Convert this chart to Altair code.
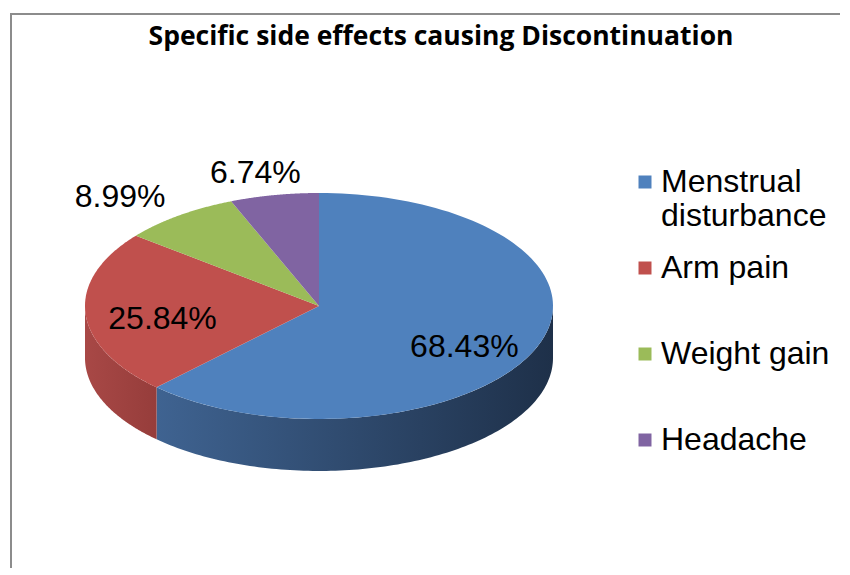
import altair as alt
import pandas as pd

# ---- data ----
categories = ["Menstrual disturbance", "Arm pain", "Weight gain", "Headache"]
values = [68.43, 25.84, 8.99, 6.74]

# ---- styles ----
top_colors = ["#4F81BD", "#C0504D", "#9BBB59", "#8064A2"]
side_left = ["#3F6391", "#A84846", "#7E9A48", "#674F85"]
side_right = ["#1E3049", "#963D3B", "#627838", "#4F3D67"]

N = 120          # points along each arc
DEPTH = 0.46     # thickness of the 3D side (in y-scale units)
W, H = 832, 555
FONT = "Liberation Sans, Arial"

df = pd.DataFrame({"category": categories, "value": values,
                   "idx": list(range(len(categories)))})

xs = alt.Scale(domain=[-1, 1], range=[77, 545], nice=False, zero=False)
ys = alt.Scale(domain=[-1, 1], range=[406, 180], nice=False, zero=False)

base = alt.Chart(df).transform_joinaggregate(
    total="sum(value)"
).transform_window(
    cum="sum(value)", sort=[alt.SortField("idx")], frame=[None, 0]
).transform_calculate(
    a0="2*PI*(datum.cum - datum.value)/datum.total",
    a1="2*PI*datum.cum/datum.total",
)

# 3D side bands (front half of the ellipse)
sides = []
for i, cat in enumerate(categories):
    grad = {"gradient": "linear", "x1": 0, "x2": 1, "y1": 0, "y2": 0,
            "stops": [{"offset": 0, "color": side_left[i]},
                      {"offset": 1, "color": side_right[i]}]}
    s = base.transform_filter(
        alt.datum.category == cat
    ).transform_calculate(
        s0="max(datum.a0, PI/2)", s1="min(datum.a1, 3*PI/2)"
    ).transform_filter(
        "datum.s1 > datum.s0"
    ).transform_calculate(
        pts=f"sequence(0, {2 * N + 2})"
    ).transform_flatten(
        ["pts"]
    ).transform_calculate(
        k=f"datum.pts <= {N} ? datum.pts : {2 * N + 1} - datum.pts",
        t=f"datum.s0 + (datum.s1 - datum.s0) * datum.k / {N}",
        px="sin(datum.t)",
        py=f"cos(datum.t) - (datum.pts <= {N} ? 0 : {DEPTH})",
    ).mark_line(fill=grad, strokeWidth=0, strokeOpacity=0).encode(
        x=alt.X("px:Q", scale=xs, axis=None),
        y=alt.Y("py:Q", scale=ys, axis=None),
        order=alt.Order("pts:Q"),
        detail="category:N",
    )
    sides.append(s)

# top wedges
top = base.transform_calculate(
    pts=f"sequence(-1, {N + 1})"
).transform_flatten(
    ["pts"]
).transform_calculate(
    t=f"datum.a0 + (datum.a1 - datum.a0) * max(datum.pts, 0) / {N}",
    px="datum.pts < 0 ? 0 : sin(datum.t)",
    py="datum.pts < 0 ? 0 : cos(datum.t)",
).mark_line(filled=True, strokeWidth=0).encode(
    x=alt.X("px:Q", scale=xs, axis=None),
    y=alt.Y("py:Q", scale=ys, axis=None),
    color=alt.Color(
        "category:N",
        scale=alt.Scale(domain=categories, range=top_colors),
        sort=categories,
        legend=alt.Legend(
            title=None, orient="none", legendX=621, legendY=153,
            symbolType="square", symbolSize=169, symbolStrokeWidth=0,
            labelFont=FONT, labelFontSize=32, labelColor="black",
            labelLimit=0, labelOffset=0, rowPadding=20,
            labelExpr="length(datum.label) > 12 ? split(datum.label, ' ') : [datum.label, '']",
        ),
    ),
    order=alt.Order("pts:Q"),
    detail="category:N",
)

labels = base.transform_calculate(
    mid="(datum.a0 + datum.a1) / 2",
    frac="datum.value / datum.total",
    lx="(datum.frac > 0.15 ? 0.67 : 1.42) * sin(datum.mid)",
    ly="(datum.frac > 0.15 ? 0.8 : 1.2) * cos(datum.mid) - (datum.frac > 0.15 ? 0.06 : 0)",
    label="format(datum.value, '.2f') + '%'",
).mark_text(font=FONT, fontSize=32, color="black").encode(
    x=alt.X("lx:Q", scale=xs, axis=None),
    y=alt.Y("ly:Q", scale=ys, axis=None),
    text="label:N",
)

one = pd.DataFrame({"a": [0]})
left_rule = alt.Chart(one).mark_rule(color="#8C8C8C", strokeWidth=2).encode(
    x=alt.value(3), y=alt.value(0), y2=alt.value(H))
top_rule = alt.Chart(one).mark_rule(color="#8C8C8C", strokeWidth=2).encode(
    x=alt.value(2), x2=alt.value(W), y=alt.value(1))

chart = alt.layer(*sides, top, labels, left_rule, top_rule).properties(
    width=W, height=H,
    padding={"left": 0, "top": 4, "right": 0, "bottom": 0},
    title=alt.TitleParams(
        "Specific side effects causing Discontinuation",
        font="Open Sans", fontWeight="bold", fontSize=26.5, color="black",
        anchor="middle", offset=-38, dx=17,
    ),
).configure_view(stroke=None)

chart.save("out.html", embed_options={"renderer": "svg", "actions": False})
